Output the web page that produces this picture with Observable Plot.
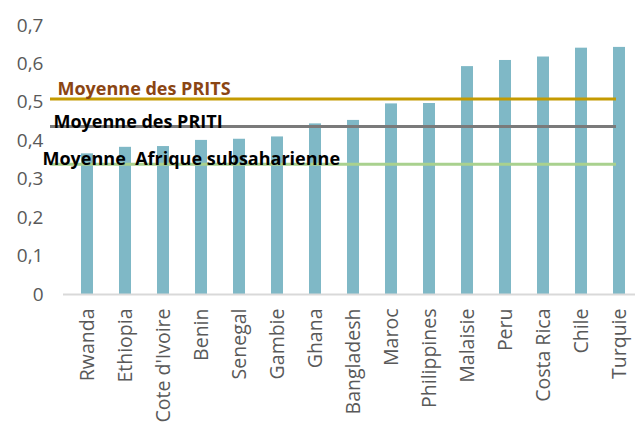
<!DOCTYPE html>
<html>
<head>
<meta charset="utf-8">
<script src="https://cdn.jsdelivr.net/npm/d3@7"></script>
<script src="https://cdn.jsdelivr.net/npm/@observablehq/plot@0.6"></script>
<style>
  html, body { margin: 0; padding: 0; background: #fff; }
  #chart svg { overflow: hidden; }
</style>
</head>
<body>
<div id="chart"></div>
<script>
const countries = ["Rwanda", "Ethiopia", "Cote d'Ivoire", "Benin", "Senegal", "Gambie", "Ghana", "Bangladesh", "Maroc", "Philippines", "Malaisie", "Peru", "Costa Rica", "Chile", "Turquie"];
const values = [0.366, 0.383, 0.385, 0.401, 0.404, 0.410, 0.444, 0.453, 0.496, 0.497, 0.593, 0.609, 0.618, 0.641, 0.643];
const refLabels = ["Moyenne des PRITS", "Moyenne des PRITI", "Moyenne  Afrique subsaharienne"];
const refValues = [0.509, 0.437, 0.339];
const yTicks = [0, 0.1, 0.2, 0.3, 0.4, 0.5, 0.6, 0.7];

const bars = countries.map((c, i) => ({country: c, value: values[i]}));
const refs = refLabels.map((l, i) => ({label: l, value: refValues[i]}));
const fmt = d => d === 0 ? "0" : d.toFixed(1).replace(".", ",");

const chart = Plot.plot({
  width: 635,
  height: 431,
  marginTop: 25,
  marginBottom: 137,
  marginLeft: 63,
  marginRight: 0,
  style: {fontFamily: "'Open Sans', sans-serif", background: "#fff"},
  x: {domain: countries, range: [63, 643], paddingInner: 0.69, paddingOuter: 0.345, align: 0.5, label: null},
  y: {domain: [0, 0.7], label: null},
  marks: [
    Plot.barY(bars, {x: "country", y: "value", fill: "#7FB8C6"}),
    Plot.ruleY([0], {stroke: "#D9D9D9", strokeWidth: 2}),
    Plot.ruleY(refs, {y: "value", stroke: d => d.label, strokeWidth: 3, insetLeft: -13, insetRight: 19}),
    Plot.text(refs.slice(0, 1), {y: "value", text: "label", frameAnchor: "left", textAnchor: "start", dx: -6, dy: -10, fill: "#8B4513", fontWeight: "bold", fontSize: 18}),
    Plot.text(refs.slice(1, 2), {y: "value", text: "label", frameAnchor: "left", textAnchor: "start", dx: -10, dy: -4, fill: "#000", fontWeight: "bold", fontSize: 18}),
    Plot.text(refs.slice(2, 3), {y: "value", text: "label", frameAnchor: "left", textAnchor: "start", dx: -21, dy: -5, fill: "#000", fontWeight: "bold", fontSize: 18}),
    Plot.axisY({ticks: yTicks, tickFormat: fmt, tickSize: 0, tickPadding: 20, fontSize: 19, fill: "#595959", label: null}),
    Plot.axisX({tickSize: 0, tickRotate: -90, tickPadding: 14, fontSize: 19.5, fill: "#595959", label: null})
  ],
  color: {domain: refLabels, range: ["#C49A00", "#7A7A7A", "#A9D18E"]}
});
document.getElementById("chart").appendChild(chart);
</script>
</body>
</html>
